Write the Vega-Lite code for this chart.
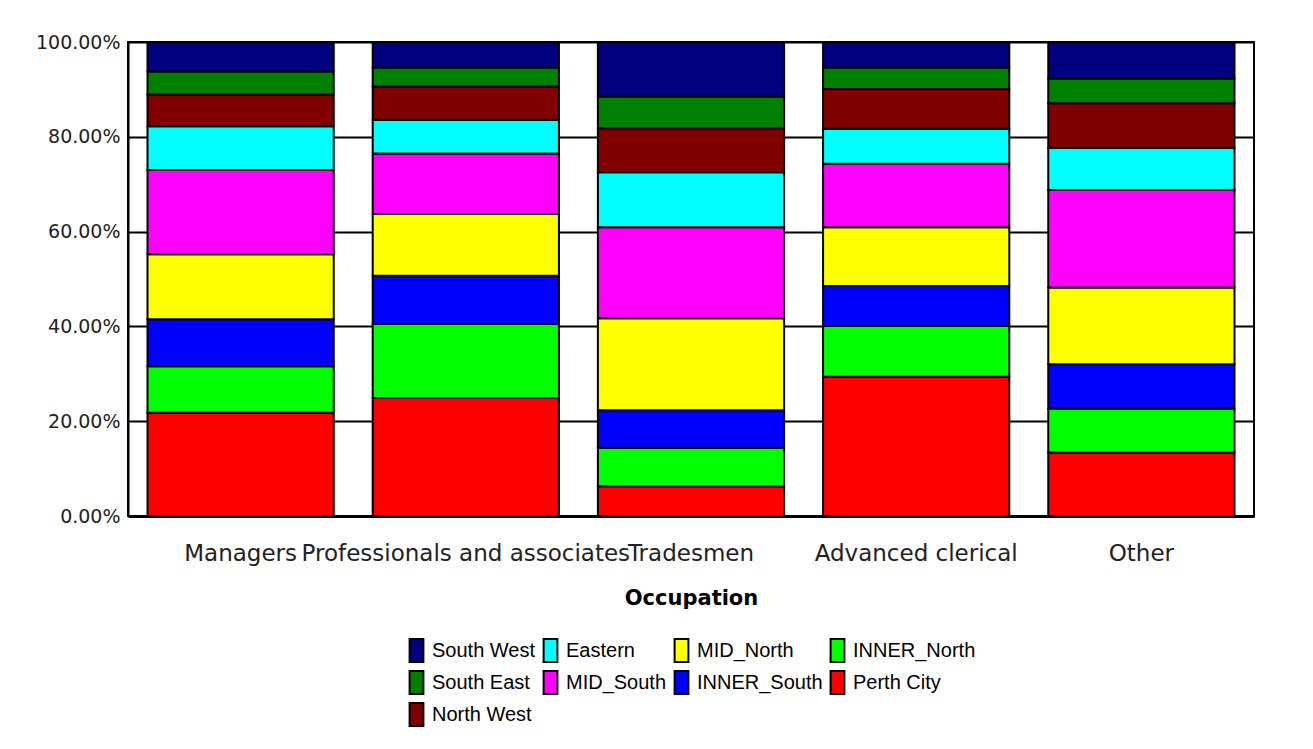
{
  "$schema": "https://vega.github.io/schema/vega-lite/v6.json",
  "autosize": {"type": "none"},
  "padding": {"left": 128, "top": 42, "right": 59, "bottom": 233},
  "width": 1126,
  "height": 474,
  "background": "white",
  "data": {
    "values": [
      {"Occupation": "Managers", "Region": "Perth City", "Share": 21.8, "Rank": 1},
      {"Occupation": "Managers", "Region": "INNER_North", "Share": 9.8, "Rank": 2},
      {"Occupation": "Managers", "Region": "INNER_South", "Share": 9.9, "Rank": 3},
      {"Occupation": "Managers", "Region": "MID_North", "Share": 13.7, "Rank": 4},
      {"Occupation": "Managers", "Region": "MID_South", "Share": 17.8, "Rank": 5},
      {"Occupation": "Managers", "Region": "Eastern", "Share": 9.2, "Rank": 6},
      {"Occupation": "Managers", "Region": "North West", "Share": 6.7, "Rank": 7},
      {"Occupation": "Managers", "Region": "South East", "Share": 4.9, "Rank": 8},
      {"Occupation": "Managers", "Region": "South West", "Share": 6.2, "Rank": 9},
      {"Occupation": "Professionals and associates", "Region": "Perth City", "Share": 24.9, "Rank": 1},
      {"Occupation": "Professionals and associates", "Region": "INNER_North", "Share": 15.6, "Rank": 2},
      {"Occupation": "Professionals and associates", "Region": "INNER_South", "Share": 10.2, "Rank": 3},
      {"Occupation": "Professionals and associates", "Region": "MID_North", "Share": 13.0, "Rank": 4},
      {"Occupation": "Professionals and associates", "Region": "MID_South", "Share": 12.8, "Rank": 5},
      {"Occupation": "Professionals and associates", "Region": "Eastern", "Share": 7.1, "Rank": 6},
      {"Occupation": "Professionals and associates", "Region": "North West", "Share": 7.0, "Rank": 7},
      {"Occupation": "Professionals and associates", "Region": "South East", "Share": 4.0, "Rank": 8},
      {"Occupation": "Professionals and associates", "Region": "South West", "Share": 5.4, "Rank": 9},
      {"Occupation": "Tradesmen", "Region": "Perth City", "Share": 6.3, "Rank": 1},
      {"Occupation": "Tradesmen", "Region": "INNER_North", "Share": 8.1, "Rank": 2},
      {"Occupation": "Tradesmen", "Region": "INNER_South", "Share": 7.9, "Rank": 3},
      {"Occupation": "Tradesmen", "Region": "MID_North", "Share": 19.4, "Rank": 4},
      {"Occupation": "Tradesmen", "Region": "MID_South", "Share": 19.2, "Rank": 5},
      {"Occupation": "Tradesmen", "Region": "Eastern", "Share": 11.6, "Rank": 6},
      {"Occupation": "Tradesmen", "Region": "North West", "Share": 9.3, "Rank": 7},
      {"Occupation": "Tradesmen", "Region": "South East", "Share": 6.7, "Rank": 8},
      {"Occupation": "Tradesmen", "Region": "South West", "Share": 11.5, "Rank": 9},
      {"Occupation": "Advanced clerical", "Region": "Perth City", "Share": 29.4, "Rank": 1},
      {"Occupation": "Advanced clerical", "Region": "INNER_North", "Share": 10.7, "Rank": 2},
      {"Occupation": "Advanced clerical", "Region": "INNER_South", "Share": 8.4, "Rank": 3},
      {"Occupation": "Advanced clerical", "Region": "MID_North", "Share": 12.4, "Rank": 4},
      {"Occupation": "Advanced clerical", "Region": "MID_South", "Share": 13.4, "Rank": 5},
      {"Occupation": "Advanced clerical", "Region": "Eastern", "Share": 7.4, "Rank": 6},
      {"Occupation": "Advanced clerical", "Region": "North West", "Share": 8.4, "Rank": 7},
      {"Occupation": "Advanced clerical", "Region": "South East", "Share": 4.5, "Rank": 8},
      {"Occupation": "Advanced clerical", "Region": "South West", "Share": 5.4, "Rank": 9},
      {"Occupation": "Other", "Region": "Perth City", "Share": 13.4, "Rank": 1},
      {"Occupation": "Other", "Region": "INNER_North", "Share": 9.3, "Rank": 2},
      {"Occupation": "Other", "Region": "INNER_South", "Share": 9.3, "Rank": 3},
      {"Occupation": "Other", "Region": "MID_North", "Share": 16.2, "Rank": 4},
      {"Occupation": "Other", "Region": "MID_South", "Share": 20.6, "Rank": 5},
      {"Occupation": "Other", "Region": "Eastern", "Share": 8.9, "Rank": 6},
      {"Occupation": "Other", "Region": "North West", "Share": 9.4, "Rank": 7},
      {"Occupation": "Other", "Region": "South East", "Share": 5.2, "Rank": 8},
      {"Occupation": "Other", "Region": "South West", "Share": 7.7, "Rank": 9}
    ]
  },
  "mark": {"type": "bar", "stroke": "black", "strokeWidth": 2},
  "encoding": {
    "x": {
      "field": "Occupation",
      "type": "nominal",
      "sort": ["Managers", "Professionals and associates", "Tradesmen", "Advanced clerical", "Other"],
      "scale": {"paddingInner": 0.173, "paddingOuter": 0.0866},
      "axis": {
        "title": "Occupation",
        "labelAngle": 0,
        "labelFont": "DejaVu Sans",
        "labelFontSize": 23,
        "labelColor": "#222",
        "labelPadding": 26,
        "labelLimit": 0,
        "labelOverlap": false,
        "ticks": false,
        "domainColor": "black",
        "domainWidth": 3,
        "grid": false,
        "titleFont": "DejaVu Sans",
        "titleFontWeight": "bold",
        "titleFontSize": 21,
        "titleColor": "black",
        "titlePadding": 22
      }
    },
    "y": {
      "field": "Share",
      "type": "quantitative",
      "stack": "normalize",
      "scale": {"domain": [0, 1]},
      "axis": {
        "title": null,
        "values": [0, 0.2, 0.4, 0.6, 0.8, 1],
        "labelExpr": "format(datum.value, '.2%')",
        "labelFont": "DejaVu Sans",
        "labelFontSize": 19,
        "labelColor": "#222",
        "labelPadding": 8,
        "ticks": false,
        "domainColor": "black",
        "domainWidth": 2,
        "grid": true,
        "gridColor": "black",
        "gridWidth": 2,
        "gridOpacity": 1
      }
    },
    "color": {
      "field": "Region",
      "type": "nominal",
      "scale": {
        "domain": ["South West", "Eastern", "MID_North", "INNER_North", "South East", "MID_South", "INNER_South", "Perth City", "North West"],
        "range": ["#000080", "#00FFFF", "#FFFF00", "#00FF00", "#008000", "#FF00FF", "#0000FF", "#FF0000", "#800000"]
      },
      "legend": {
        "title": null,
        "orient": "none",
        "legendX": 276,
        "legendY": 596,
        "columns": 4,
        "direction": "horizontal",
        "symbolType": "M-0.6,-1L0.6,-1L0.6,1L-0.6,1Z",
        "symbolSize": 529,
        "symbolStrokeColor": "black",
        "symbolStrokeWidth": 2,
        "symbolOpacity": 1,
        "symbolOffset": 0,
        "labelFont": "Liberation Sans",
        "labelFontSize": 20,
        "labelColor": "black",
        "labelOffset": 3,
        "labelLimit": 0,
        "rowPadding": 1,
        "columnPadding": 2
      }
    },
    "order": {"field": "Rank", "type": "quantitative", "sort": "ascending"}
  },
  "config": {
    "view": {"stroke": "black", "strokeWidth": 2}
  }
}
